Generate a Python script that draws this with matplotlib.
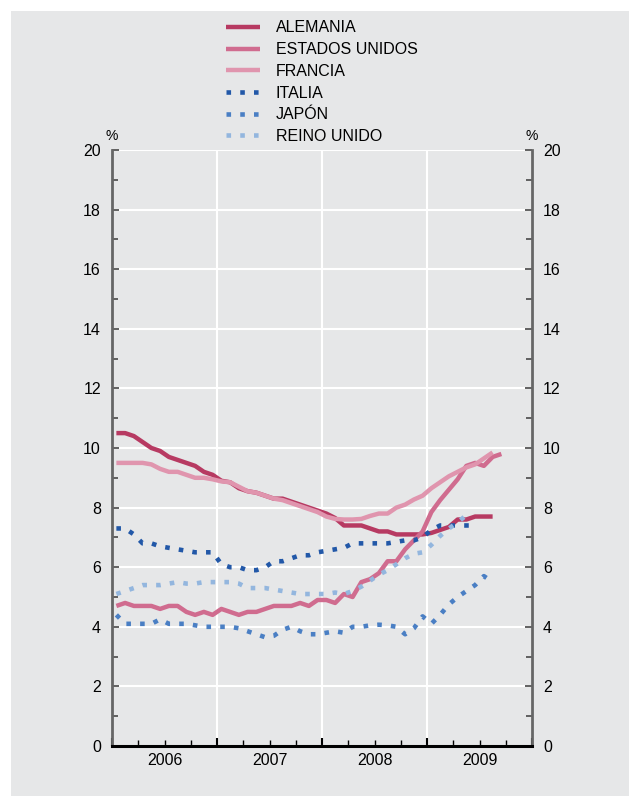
import numpy as np
import matplotlib
matplotlib.use('Agg')
import matplotlib.pyplot as plt
from matplotlib.patches import Rectangle
from matplotlib.ticker import MultipleLocator

plt.rcParams['font.family'] = ['Liberation Sans', 'DejaVu Sans']

# monthly unemployment rates (%), starting January 2006
alemania = [10.5, 10.5, 10.4, 10.2, 10.0, 9.9, 9.7, 9.6, 9.5, 9.4, 9.2, 9.1,
            8.9, 8.85, 8.65, 8.55, 8.5, 8.4, 8.3, 8.3, 8.2, 8.1, 8.0, 7.9,
            7.8, 7.65, 7.4, 7.4, 7.4, 7.3, 7.2, 7.2, 7.1, 7.1, 7.1, 7.1,
            7.15, 7.25, 7.35, 7.6, 7.6, 7.7, 7.7, 7.7]
estados_unidos = [4.7, 4.8, 4.7, 4.7, 4.7, 4.6, 4.7, 4.7, 4.5, 4.4, 4.5, 4.4,
                  4.6, 4.5, 4.4, 4.5, 4.5, 4.6, 4.7, 4.7, 4.7, 4.8, 4.7, 4.9,
                  4.9, 4.8, 5.1, 5.0, 5.5, 5.6, 5.8, 6.2, 6.2, 6.6, 6.9, 7.2,
                  7.85, 8.25, 8.6, 8.95, 9.4, 9.5, 9.4, 9.7, 9.8]
francia = [9.5, 9.5, 9.5, 9.5, 9.45, 9.3, 9.2, 9.2, 9.1, 9.0, 9.0, 8.95,
           8.88, 8.85, 8.7, 8.55, 8.5, 8.4, 8.3, 8.25, 8.15, 8.05, 7.95, 7.85,
           7.7, 7.62, 7.6, 7.6, 7.62, 7.72, 7.8, 7.8, 8.0, 8.1, 8.27, 8.4,
           8.65, 8.85, 9.05, 9.2, 9.35, 9.45, 9.65, 9.85]
italia = [7.3, 7.3, 7.1, 6.8, 6.8, 6.7, 6.65, 6.6, 6.55, 6.5, 6.5, 6.5,
          6.1, 6.0, 6.0, 5.9, 5.9, 6.0, 6.2, 6.2, 6.3, 6.4, 6.4, 6.5,
          6.55, 6.6, 6.65, 6.8, 6.8, 6.8, 6.8, 6.8, 6.85, 6.9, 6.9, 7.0,
          7.25, 7.4, 7.4, 7.4, 7.4, 7.4]
japon = [4.4, 4.1, 4.1, 4.1, 4.1, 4.25, 4.1, 4.1, 4.1, 4.05, 4.0, 4.0,
         4.0, 4.0, 3.95, 3.85, 3.75, 3.65, 3.7, 3.9, 4.0, 3.85, 3.75, 3.75,
         3.8, 3.85, 3.8, 4.0, 4.0, 4.05, 4.07, 4.05, 4.0, 3.75, 3.95, 4.35,
         4.1, 4.4, 4.75, 5.0, 5.2, 5.4, 5.7, 5.5]
reino_unido = [5.1, 5.2, 5.3, 5.4, 5.4, 5.4, 5.45, 5.5, 5.45, 5.45, 5.5, 5.5,
               5.5, 5.5, 5.45, 5.3, 5.3, 5.3, 5.25, 5.2, 5.15, 5.1, 5.1, 5.1,
               5.1, 5.15, 5.1, 5.2, 5.35, 5.55, 5.75, 5.9, 6.1, 6.3, 6.45, 6.5,
               6.75, 7.05, 7.3, 7.5, 7.75]

years = [2006, 2007, 2008, 2009]

series = [
    ('ALEMANIA', alemania, '#b73a62', '-'),
    ('ESTADOS UNIDOS', estados_unidos, '#d06c8f', '-'),
    ('FRANCIA', francia, '#e095ae', '-'),
    ('ITALIA', italia, '#2258a8', (0, (1, 2))),
    ('JAPÓN', japon, '#4a7fc4', (0, (1, 2))),
    ('REINO UNIDO', reino_unido, '#93b6de', (0, (1, 2))),
]

bg = '#e6e7e8'
fig = plt.figure(figsize=(6.29, 7.96), dpi=100)
fig.patch.set_facecolor('white')
fig.patches.append(Rectangle((11 / 629, 0), 1, 1 - 11 / 796, transform=fig.transFigure,
                             facecolor=bg, edgecolor='none', zorder=-10))

ax = fig.add_axes([112 / 629, 50 / 796, 420 / 629, 596 / 796])
ax.set_facecolor(bg)

handles = []
for name, vals, color, ls in series:
    x = 2006 + (np.arange(len(vals)) + 0.5) / 12
    if ls == '-':
        h, = ax.plot(x, vals, color=color, lw=3.2, ls=ls, solid_capstyle='butt', label=name, zorder=3)
    else:
        h, = ax.plot(x, vals, color=color, lw=3.3, ls=ls, dash_capstyle='butt', label=name, zorder=3)
    handles.append(h)

ax.set_xlim(2006, 2010)
ax.set_ylim(0, 20)
ax.yaxis.set_major_locator(MultipleLocator(2))
ax.yaxis.set_minor_locator(MultipleLocator(1))
ax.set_xticks([2006, 2007, 2008, 2009, 2010])
ax.set_xticklabels([])
ax.xaxis.set_minor_locator(MultipleLocator(0.25))

ax.grid(True, which='major', axis='both', color='white', lw=1.5, zorder=0)
ax.set_axisbelow(True)

ax.tick_params(axis='y', which='both', direction='in', left=True, right=True,
               labelleft=True, labelright=True, color='#555555', labelsize=11.5, pad=8)
ax.tick_params(axis='y', which='major', length=5, width=1.3)
ax.tick_params(axis='y', which='minor', length=4, width=1.3)
ax.tick_params(axis='x', which='both', direction='in', color='black', bottom=True, top=False)
ax.tick_params(axis='x', which='major', length=6, width=1.5)
ax.tick_params(axis='x', which='minor', length=4, width=1)

for s in ['left', 'right']:
    ax.spines[s].set_color('#666666')
    ax.spines[s].set_linewidth(2)
ax.spines['top'].set_visible(False)
ax.spines['bottom'].set_color('black')
ax.spines['bottom'].set_linewidth(2.2)

for yr in years:
    ax.text(yr + 0.5, -0.22, str(yr), ha='center', va='top', fontsize=11.5)

ax.text(0.0, 1.011, '%', transform=ax.transAxes, ha='center', va='bottom', fontsize=10)
ax.text(1.0, 1.011, '%', transform=ax.transAxes, ha='center', va='bottom', fontsize=10)

fig.legend(handles=handles, loc='upper left', bbox_to_anchor=(220 / 629, 1 - 14 / 796),
           frameon=False, fontsize=11.5, handlelength=2.1, handletextpad=1.0,
           labelspacing=0.42, borderaxespad=0)

fig.savefig('out.png', dpi=100, facecolor=fig.get_facecolor())
